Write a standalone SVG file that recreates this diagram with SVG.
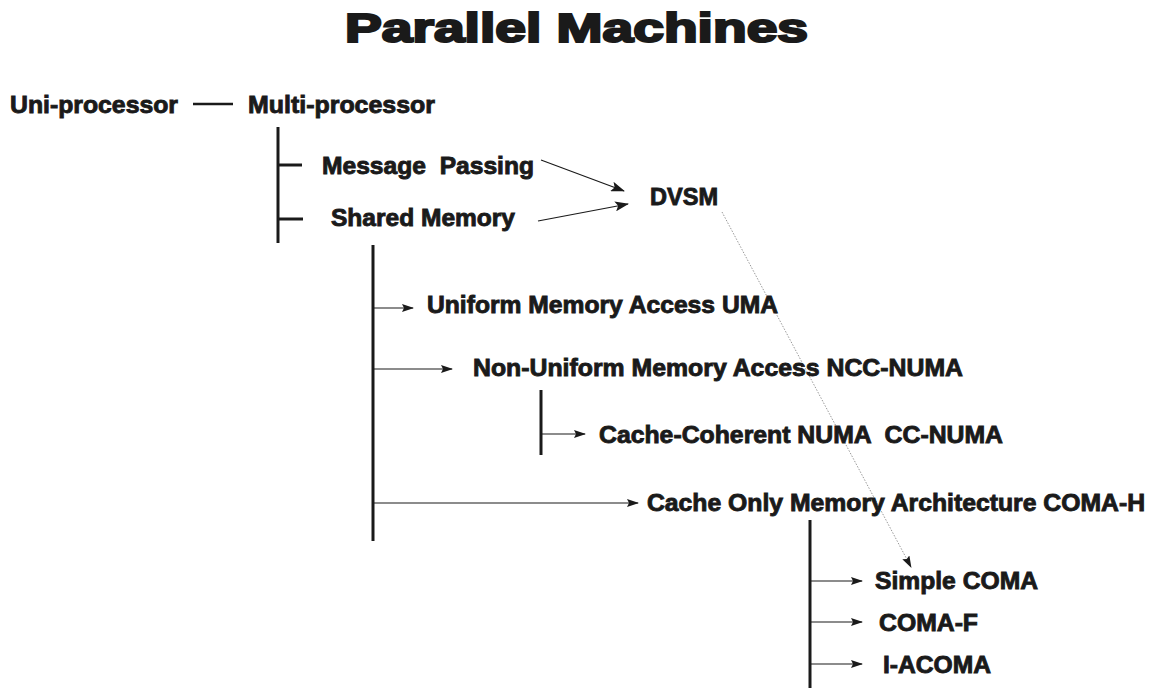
<svg xmlns="http://www.w3.org/2000/svg" width="1151" height="690" viewBox="0 0 1151 690">
<style>
text{font-family:"Liberation Sans",Arial,sans-serif;font-weight:bold;fill:#1a1a1a;stroke:#1a1a1a;stroke-width:0.9;font-size:24.5px}
.title{font-size:40px;stroke-width:2.2}
.thick{stroke:#1a1a1a;stroke-width:3;fill:none}
.thin{stroke:#1a1a1a;stroke-width:1.2;fill:none}
.dot{stroke:#999;stroke-width:1;stroke-dasharray:1.5 1.5;fill:none}
</style>
<defs>
<marker id="ah" markerWidth="14" markerHeight="10" refX="13" refY="5" orient="auto" markerUnits="userSpaceOnUse"><path d="M0,0 L14,5 L0,10 L3,5 Z" fill="#1a1a1a"/></marker>
<marker id="ahs" markerWidth="12" markerHeight="8" refX="11" refY="4" orient="auto" markerUnits="userSpaceOnUse"><path d="M0,0 L12,4 L0,8 L2,4 Z" fill="#1a1a1a"/></marker>
</defs>
<rect width="1151" height="690" fill="#fff"/>
<text class="title" x="345" y="42" textLength="463" lengthAdjust="spacingAndGlyphs">Parallel Machines</text>
<g id="connectors">
<line class="thick" x1="193" y1="104" x2="233" y2="104" style="stroke-width:2.5"/>
<line class="thick" x1="278" y1="127" x2="278" y2="243"/>
<line class="thick" x1="278" y1="165" x2="302" y2="165"/>
<line class="thick" x1="278" y1="219" x2="303" y2="219"/>
<line class="thin" x1="541" y1="160" x2="624" y2="191" marker-end="url(#ah)"/>
<line class="thin" x1="538" y1="221" x2="628" y2="204" marker-end="url(#ah)"/>
<line class="dot" x1="722" y1="212" x2="911" y2="567" marker-end="url(#ahs)"/>
<line class="thick" x1="373" y1="245" x2="373" y2="541"/>
<line class="thin" x1="373" y1="308" x2="413" y2="308" marker-end="url(#ahs)"/>
<line class="thin" x1="373" y1="369" x2="452" y2="369" marker-end="url(#ahs)"/>
<line class="thick" x1="541" y1="390" x2="541" y2="455"/>
<line class="thin" x1="541" y1="434" x2="585" y2="434" marker-end="url(#ahs)"/>
<line class="thin" x1="373" y1="503" x2="638" y2="503" marker-end="url(#ahs)"/>
<line class="thick" x1="810" y1="520" x2="810" y2="688"/>
<line class="thin" x1="810" y1="581" x2="862" y2="581" marker-end="url(#ahs)"/>
<line class="thin" x1="810" y1="622" x2="862" y2="622" marker-end="url(#ahs)"/>
<line class="thin" x1="810" y1="664" x2="862" y2="664" marker-end="url(#ahs)"/>
</g>
<g id="uni"><text x="10" y="113" textLength="168" lengthAdjust="spacingAndGlyphs">Uni-processor</text></g>
<g id="multi"><text x="248" y="113" textLength="187" lengthAdjust="spacingAndGlyphs">Multi-processor</text></g>
<g id="msg"><text x="322" y="174" textLength="212" lengthAdjust="spacingAndGlyphs" xml:space="preserve">Message  Passing</text></g>
<g id="shm"><text x="331" y="226" textLength="184" lengthAdjust="spacingAndGlyphs">Shared Memory</text></g>
<g id="dvsm"><text x="650" y="205" textLength="68" lengthAdjust="spacingAndGlyphs">DVSM</text></g>
<g id="uma"><text x="427" y="313" textLength="351" lengthAdjust="spacingAndGlyphs">Uniform Memory Access UMA</text></g>
<g id="numa"><text x="473" y="376" textLength="490" lengthAdjust="spacingAndGlyphs">Non-Uniform Memory Access NCC-NUMA</text></g>
<g id="ccnuma"><text x="599" y="443" textLength="404" lengthAdjust="spacingAndGlyphs" xml:space="preserve">Cache-Coherent NUMA  CC-NUMA</text></g>
<g id="coma"><text x="647" y="511" textLength="498" lengthAdjust="spacingAndGlyphs">Cache Only Memory Architecture COMA-H</text></g>
<g id="scoma"><text x="875" y="589" textLength="163" lengthAdjust="spacingAndGlyphs">Simple COMA</text></g>
<g id="comaf"><text x="879" y="631" textLength="99" lengthAdjust="spacingAndGlyphs">COMA-F</text></g>
<g id="iacoma"><text x="883" y="673" textLength="108" lengthAdjust="spacingAndGlyphs">I-ACOMA</text></g>
</svg>
